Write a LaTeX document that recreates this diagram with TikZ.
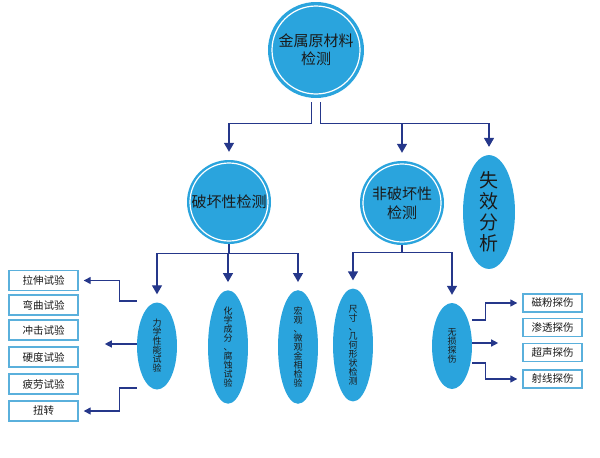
\documentclass[tikz,border=0pt]{standalone}
\usepackage{fontspec}
\setmainfont{Noto Sans CJK SC}
\usetikzlibrary{shapes.geometric,arrows.meta}
\definecolor{fillblue}{HTML}{2AA4DD}
\definecolor{navy}{HTML}{25378A}
\definecolor{boxblue}{HTML}{5AB0DC}
\definecolor{txt}{HTML}{1A1A1A}
\begin{document}
\begin{tikzpicture}[x=1pt,y=-1pt,
  bigc/.style={circle,fill=fillblue,inner sep=0pt,text=txt,align=center},
  ell/.style={ellipse,fill=fillblue,inner sep=0pt,text=txt,align=center},
  vtext/.style={font=\fontsize{9}{9}\selectfont},
  tbox/.style={draw=boxblue,line width=1.4pt,fill=white,inner sep=0pt,text=txt,font=\fontsize{10.5}{12}\selectfont},
  conn/.style={draw=navy,line width=1.3pt},
  arr/.style={conn,-{Triangle[length=9pt,width=10pt]}},
  sarr/.style={conn,-{Triangle[length=7pt,width=7pt]}},
  ring/.style={draw=white,line width=1.2pt}
]
\useasboundingbox (0,0) rectangle (600,458);

% level 1
\node[bigc,minimum size=96pt,font=\fontsize{15}{18}\selectfont] (top) at (316,50) {金属原材料\\检测};
\draw[ring] (top.center) circle (44pt);

% level 2
\node[bigc,minimum size=84pt,font=\fontsize{15}{19}\selectfont] (d1) at (229,202) {破坏性检测};
\draw[ring] (d1.center) circle (39pt);
\node[bigc,minimum size=84pt,font=\fontsize{15}{19}\selectfont] (nd) at (402,203) {非破坏性\\检测};
\draw[ring] (nd.center) circle (39pt);
\node[ell,minimum width=52pt,minimum height=110pt,font=\fontsize{19}{21}\selectfont] (fx) at (489,212) {失\\效\\分\\析};

% level 1 -> level 2
\draw[arr,shorten >=8pt] ([xshift=-4.5pt,yshift=-4pt]top.south) -- ++(0,21) -| (d1.north);
\draw[arr,shorten >=8pt] ([xshift=4.5pt,yshift=-4pt]top.south) -- ++(0,21) coordinate (h1) -| (fx.north);
\draw[arr,shorten >=8pt] (h1 -| nd.north) -- (nd.north);

% level 3 ellipses
\node[ell,minimum width=40pt,minimum height=87pt,vtext] (e1) at (157,346) {力\\学\\性\\能\\试\\验};
\node[ell,minimum width=40pt,minimum height=86pt,vtext] (e2) at (228,347) {化\\学\\成\\分\\、\\腐\\蚀\\试\\验};
\node[ell,minimum width=40pt,minimum height=86pt,vtext] (e3) at (298,347) {宏\\观\\、\\微\\观\\金\\相\\检\\验};
\node[ell,minimum width=40pt,minimum height=86pt,vtext] (e4) at (353,345) {尺\\寸\\、\\几\\何\\形\\状\\检\\测};
\node[ell,minimum width=40pt,minimum height=86pt,vtext] (e5) at (452,346) {无\\损\\探\\伤};

% level 2 -> level 3
\draw[conn] (d1.south) -- ++(0,9) coordinate (j1);
\draw[arr,shorten >=8pt] (j1) -| (e1.north);
\draw[arr,shorten >=8pt] (j1) -| (e3.north);
\draw[arr,shorten >=8pt] (j1 -| e2.north) -- (e2.north);
\draw[conn] (nd.south) -- ++(0,7) coordinate (j2);
\draw[arr,shorten >=8pt] (j2) -| (e4.north);
\draw[arr,shorten >=8pt] (j2) -| (e5.north);

% left boxes
\node[tbox,minimum width=69pt,minimum height=20pt] (b1) at (43.5,280.5) {拉伸试验};
\node[tbox,minimum width=69pt,minimum height=20pt] (b2) at (43.5,305) {弯曲试验};
\node[tbox,minimum width=69pt,minimum height=20pt] (b3) at (43.5,330) {冲击试验};
\node[tbox,minimum width=69pt,minimum height=20pt] (b4) at (43.5,357) {硬度试验};
\node[tbox,minimum width=69pt,minimum height=20pt] (b5) at (43.5,384) {疲劳试验};
\node[tbox,minimum width=69pt,minimum height=20pt] (b6) at (43.5,411) {扭转};

\draw[sarr,shorten >=5pt] ([yshift=45pt]e1.west) -- ++(-17,0) |- (b1.east);
\draw[sarr] ([yshift=2pt]e1.west) -- ++(-32,0) coordinate (m1);
\draw[sarr,shorten >=5pt] ([yshift=-42pt]e1.west) -- ++(-17,0) |- (b6.east);

% right boxes
\node[tbox,minimum width=59pt,minimum height=18pt] (r1) at (552.5,303) {磁粉探伤};
\node[tbox,minimum width=59pt,minimum height=18pt] (r2) at (552.5,327.5) {渗透探伤};
\node[tbox,minimum width=59pt,minimum height=18pt] (r3) at (552.5,352.5) {超声探伤};
\node[tbox,minimum width=59pt,minimum height=18pt] (r4) at (552.5,379) {射线探伤};

\draw[sarr,shorten >=5pt] ([yshift=26pt]e5.east) -- ++(13,0) |- (r1.west);
\draw[sarr] ([yshift=3pt]e5.east) -- ++(26,0) coordinate (m2);
\draw[sarr,shorten >=5pt] ([yshift=-17pt]e5.east) -- ++(13,0) |- (r4.west);
\end{tikzpicture}
\end{document}
